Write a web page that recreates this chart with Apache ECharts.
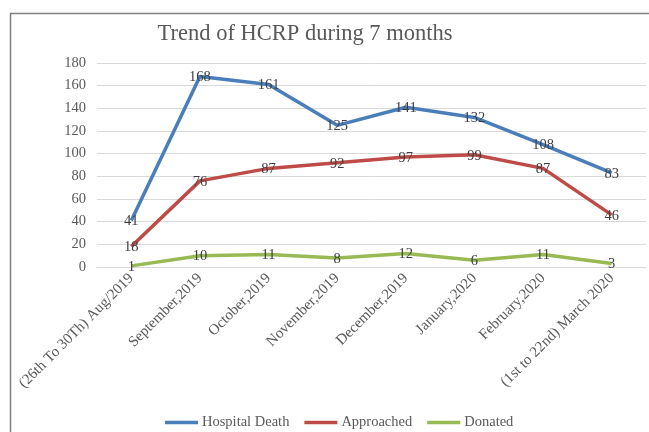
<!DOCTYPE html>
<html>
<head>
<meta charset="utf-8">
<script src="https://cdn.jsdelivr.net/npm/echarts@6/dist/echarts.min.js"></script>
<style>
    html, body { margin: 0; padding: 0; background: #fff; }
    #chart { width: 649px; height: 432px; }
</style>
</head>
<body>
<div id="chart"></div>
<script>
var categories = [
    '(26th To 30Th) Aug/2019',
    'September,2019',
    'October,2019',
    'November,2019',
    'December,2019',
    'January,2020',
    'February,2020',
    '(1st to 22nd) March 2020'
];
var hospitalDeath = [41, 168, 161, 125, 141, 132, 108, 83];
var approached = [18, 76, 87, 92, 97, 99, 87, 46];
var donated = [1, 10, 11, 8, 12, 6, 11, 3];

var serif = '"Liberation Serif", "DejaVu Serif", serif';

function makeSeries(name, data, color) {
    return {
        name: name,
        type: 'line',
        data: data,
        symbol: 'circle',
        symbolSize: 0,
        showSymbol: true,
        lineStyle: {
            color: color,
            width: 3.5
        },
        itemStyle: {
            color: color
        },
        label: {
            show: true,
            position: 'inside',
            offset: [0, 1],
            color: '#404040',
            fontSize: 14.5,
            fontFamily: serif
        },
        emphasis: { disabled: true }
    };
}

var chart = echarts.init(document.getElementById('chart'));

var option = {
    backgroundColor: '#fff',
    animation: false,
    title: {
        text: 'Trend of HCRP during 7 months',
        left: 300,
        textAlign: 'center',
        top: 18,
        textStyle: {
            color: '#595959',
            fontSize: 22.5,
            fontWeight: 'normal',
            fontFamily: serif
        }
    },
    graphic: [{
        type: 'rect',
        shape: { x: 10.5, y: 13.5, width: 700, height: 500 },
        style: { fill: 'none', stroke: '#7f7f7f', lineWidth: 1.5 },
        silent: true
    }],
    legend: {
        left: 160,
        top: 410,
        itemGap: 15,
        itemWidth: 33,
        itemHeight: 3.5,
        icon: 'rect',
        textStyle: {
            color: '#595959',
            fontSize: 14.5,
            fontFamily: serif,
            padding: [0, 0, 0, -1]
        },
        data: ['Hospital Death', 'Approached', 'Donated']
    },
    grid: {
        left: 97,
        right: 3,
        top: 63,
        bottom: 165
    },
    xAxis: {
        type: 'category',
        data: categories,
        boundaryGap: true,
        axisLine: { lineStyle: { color: '#d9d9d9', width: 1 } },
        axisTick: { show: false },
        axisLabel: {
            rotate: 45,
            interval: 0,
            margin: 9,
            color: '#595959',
            fontSize: 15,
            fontFamily: serif
        }
    },
    yAxis: {
        type: 'value',
        min: 0,
        max: 180,
        interval: 20,
        axisLine: { show: false },
        axisTick: { show: false },
        splitLine: { lineStyle: { color: '#d9d9d9', width: 1 } },
        axisLabel: {
            margin: 11,
            color: '#595959',
            fontSize: 14.5,
            fontFamily: serif
        }
    },
    series: [
        makeSeries('Hospital Death', hospitalDeath, '#4a7ebb'),
        makeSeries('Approached', approached, '#be4b48'),
        makeSeries('Donated', donated, '#98b954')
    ]
};

chart.setOption(option);
</script>
</body>
</html>
